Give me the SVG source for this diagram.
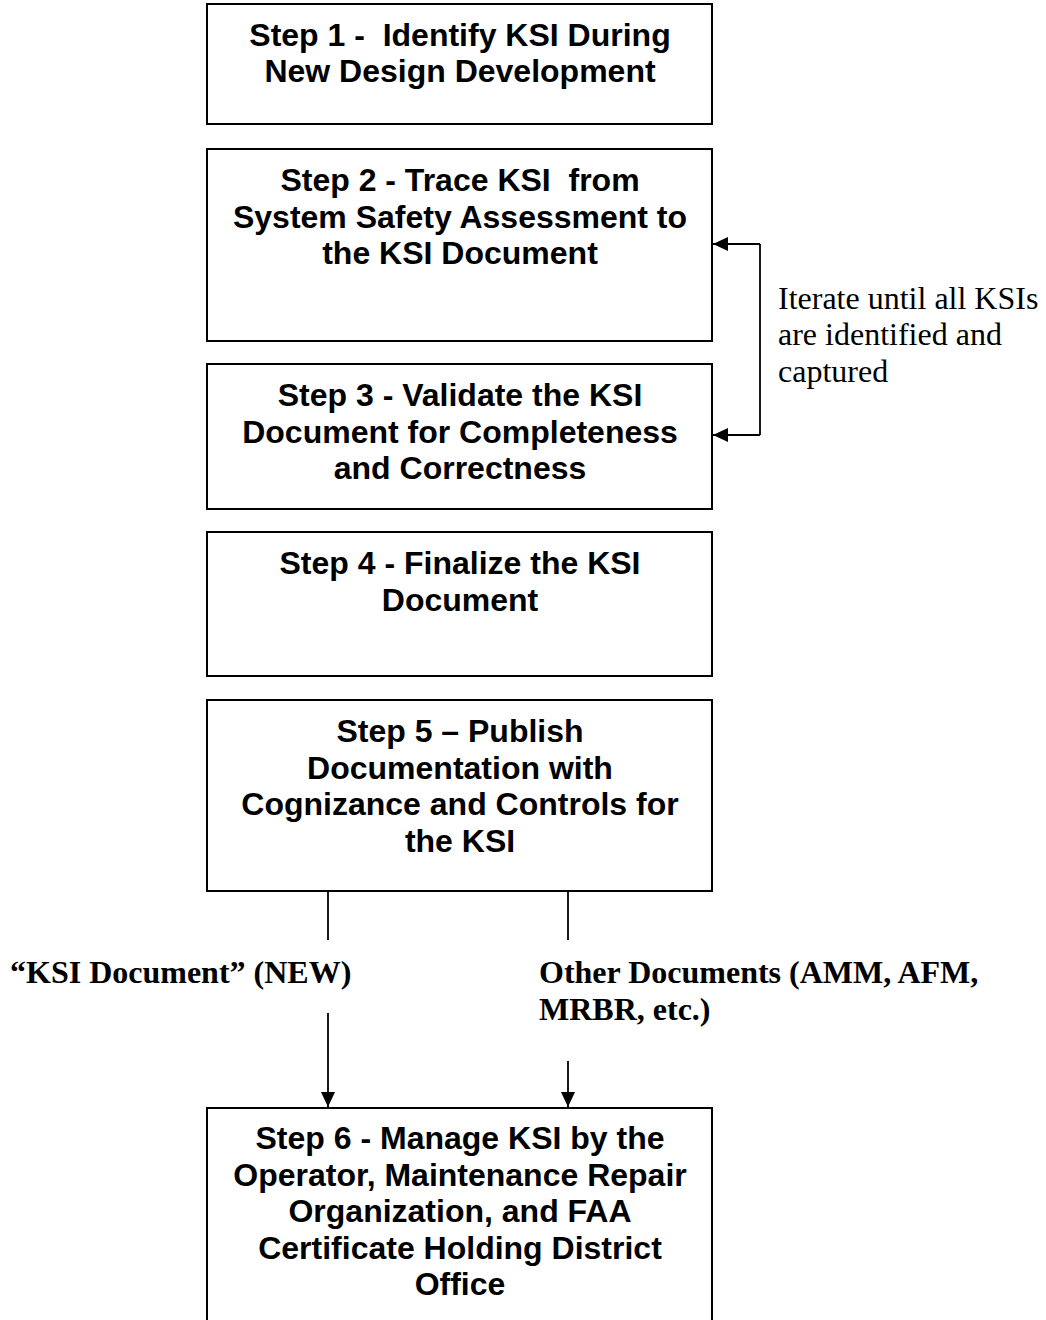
<svg xmlns="http://www.w3.org/2000/svg" width="1046" height="1320" viewBox="0 0 1046 1320">
<defs>
<style>
.box{fill:#fff;stroke:#000;stroke-width:2}
.t{font-family:"Liberation Sans",Arial,sans-serif;font-weight:bold;font-size:32px;text-anchor:middle;fill:#000}
.lbl{font-family:"Liberation Serif","Times New Roman",serif;font-size:32px;fill:#000}
.b{font-weight:bold}
.ln{stroke:#000;stroke-width:1.8;fill:none}
</style>
<marker id="ah2" viewBox="0 0 15 14" refX="15" refY="7" markerWidth="15" markerHeight="14" markerUnits="userSpaceOnUse" orient="auto">
<path d="M0,0L15,7L0,14z" fill="#000"/>
</marker>
</defs>
<rect width="1046" height="1320" fill="#fff"/>
<g id="step1">
<rect class="box" x="207" y="4" width="505" height="120"/>
<text class="t" x="460" y="46" xml:space="preserve">Step 1 -  Identify KSI During</text>
<text class="t" x="460" y="82">New Design Development</text>
</g>
<g id="step2">
<rect class="box" x="207" y="149" width="505" height="192"/>
<text class="t" x="460" y="191" xml:space="preserve">Step 2 - Trace KSI  from</text>
<text class="t" x="460" y="228">System Safety Assessment to</text>
<text class="t" x="460" y="264">the KSI Document</text>
</g>
<g id="step3">
<rect class="box" x="207" y="364" width="505" height="145"/>
<text class="t" x="460" y="406">Step 3 - Validate the KSI</text>
<text class="t" x="460" y="443">Document for Completeness</text>
<text class="t" x="460" y="479">and Correctness</text>
</g>
<g id="step4">
<rect class="box" x="207" y="532" width="505" height="144"/>
<text class="t" x="460" y="574">Step 4 - Finalize the KSI</text>
<text class="t" x="460" y="611">Document</text>
</g>
<g id="step5">
<rect class="box" x="207" y="700" width="505" height="191"/>
<text class="t" x="460" y="742">Step 5 – Publish</text>
<text class="t" x="460" y="779">Documentation with</text>
<text class="t" x="460" y="815">Cognizance and Controls for</text>
<text class="t" x="460" y="852">the KSI</text>
</g>
<g id="step6">
<rect class="box" x="207" y="1108" width="505" height="230"/>
<text class="t" x="460" y="1149">Step 6 - Manage KSI by the</text>
<text class="t" x="460" y="1186">Operator, Maintenance Repair</text>
<text class="t" x="460" y="1222">Organization, and FAA</text>
<text class="t" x="460" y="1259">Certificate Holding District</text>
<text class="t" x="460" y="1295">Office</text>
</g>
<g id="labels">
<text class="lbl" x="778" y="309">Iterate until all KSIs</text>
<text class="lbl" x="778" y="345">are identified and</text>
<text class="lbl" x="778" y="382">captured</text>
<text class="lbl b" x="10" y="983">“KSI Document” (NEW)</text>
<text class="lbl b" x="539" y="983">Other Documents (AMM, AFM,</text>
<text class="lbl b" x="539" y="1020">MRBR, etc.)</text>
</g>
<g id="connectors">
<path class="ln" d="M760,244V435"/>
<path class="ln" d="M760,244H713" marker-end="url(#ah2)"/>
<path class="ln" d="M760,435H713" marker-end="url(#ah2)"/>
<path class="ln" d="M328,892V940"/>
<path class="ln" d="M328,1013V1107" marker-end="url(#ah2)"/>
<path class="ln" d="M568,892V940"/>
<path class="ln" d="M568,1061V1107" marker-end="url(#ah2)"/>
</g>
</svg>
